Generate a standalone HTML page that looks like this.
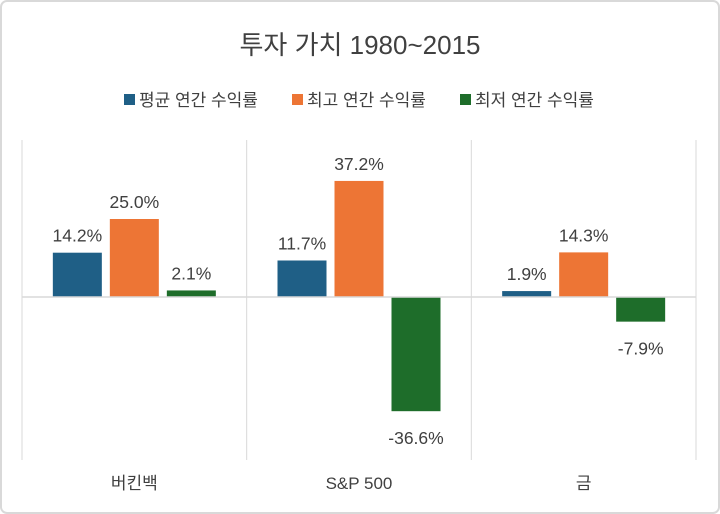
<!DOCTYPE html>
<html><head><meta charset="utf-8"><style>
body{margin:0;background:#fff;}
svg{display:block;font-family:"Liberation Sans","Noto Sans CJK KR",sans-serif;}
</style></head><body>
<svg width="720" height="514">
<rect x="1" y="1" width="718" height="512" rx="6" fill="#fff" stroke="#d9d9d9" stroke-width="2"/>
<text x="360" y="54" text-anchor="middle" font-size="26" fill="#404040">투자 가치 1980~2015</text>
<g id="legend"></g>
<g id="plot"></g>
</svg>
<script>
const categories=["버킨백","S&P 500","금"];
const seriesNames=["평균 연간 수익률","최고 연간 수익률","최저 연간 수익률"];
const avgValues=[14.2,11.7,1.9];
const maxValues=[25.0,37.2,14.3];
const minValues=[2.1,-36.6,-7.9];
const colors=["#1f5f86","#ed7535","#1e6d2a"];
const NS="http://www.w3.org/2000/svg";
function mk(t,a,p){const e=document.createElementNS(NS,t);for(const k in a)e.setAttribute(k,a[k]);p.appendChild(e);return e;}
const plot=document.getElementById('plot'),legend=document.getElementById('legend');
const left=22,right=696,zeroY=297,scale=3.12;
const gw=(right-left)/categories.length;
function y(v){return zeroY-v*scale;}
const series=[avgValues,maxValues,minValues];
for(let i=0;i<=categories.length;i++){
 const l=mk('line',{x1:left+i*gw,x2:left+i*gw,y1:140,y2:460,stroke:'#d9d9d9','stroke-width':1},plot);
 
 
}
const bw=49,gap=8;
categories.forEach((c,i)=>{
 const cx=left+gw*i+gw/2;
 series.forEach((s,j)=>{
  const v=s[i];
  const x=cx-bw*1.5-gap+j*(bw+gap);
  const r=mk('rect',{x:x,y:Math.min(y(v),zeroY),width:bw,height:Math.abs(y(v)-zeroY),fill:colors[j]},plot);
  
  
  const ly=v>=0?y(v)-11:y(v)+33;
  const t=mk('text',{x:x+bw/2,y:ly,'text-anchor':'middle','font-size':17.5,fill:'#404040'},plot);
  t.textContent=v.toFixed(1)+'%';
  
  
 });
 const t=mk('text',{x:cx,y:489,'text-anchor':'middle','font-size':17,fill:'#404040'},plot);
 t.textContent=c;
 
 
});
const z=mk('line',{x1:left,x2:right,y1:zeroY,y2:zeroY,stroke:'#d9d9d9','stroke-width':1.5},plot);


seriesNames.forEach((n,j)=>{
 const x=124+j*168;
 const r=mk('rect',{x:x,y:94,width:11,height:11,fill:colors[j]},legend);
 
 
 const t=mk('text',{x:x+15,y:106,'font-size':17,fill:'#404040'},legend);
 t.textContent=n;
 
 
});
</script>
</body></html>
